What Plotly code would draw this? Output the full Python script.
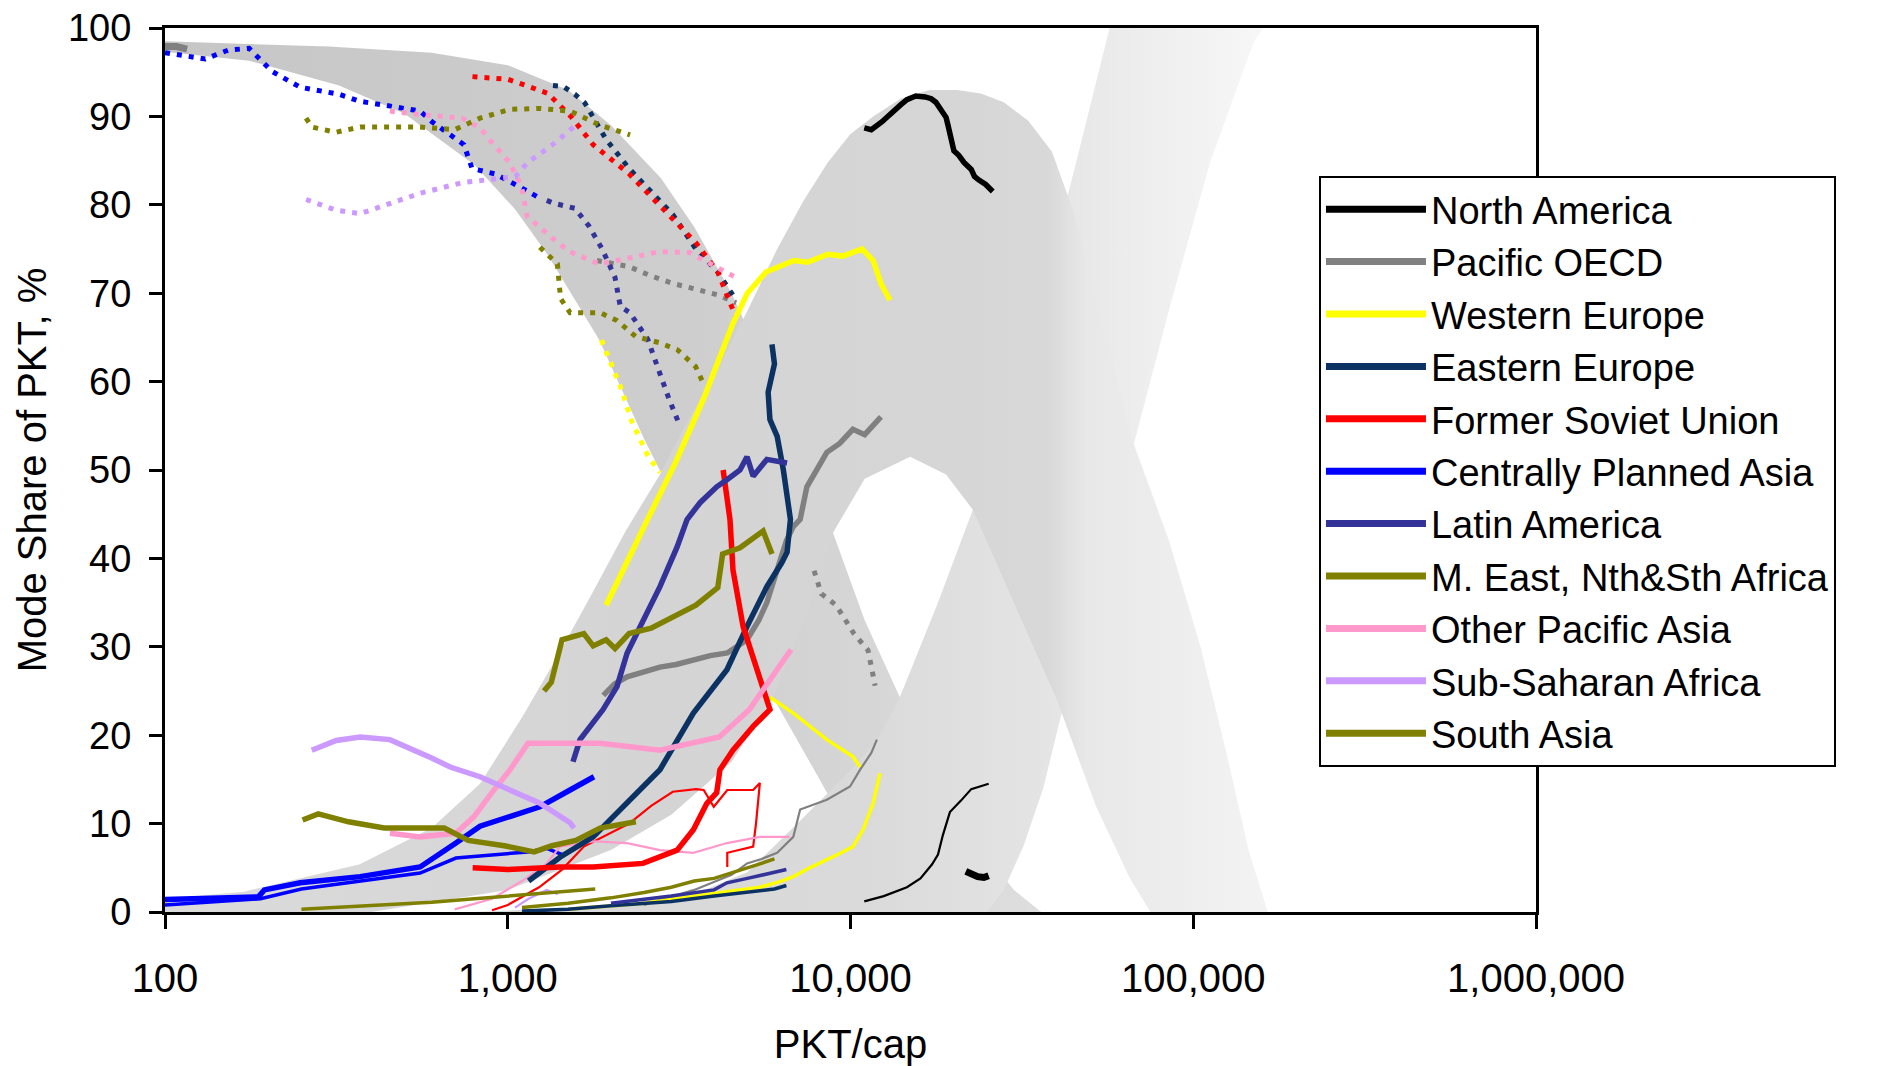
import plotly.graph_objects as go

# ---------------- axis ticks ----------------
X_TICKS = [100, 1000, 10000, 100000, 1000000]
X_TICK_TEXT = ["100", "1,000", "10,000", "100,000", "1,000,000"]
Y_TICKS = [0, 10, 20, 30, 40, 50, 60, 70, 80, 90, 100]

# ---------------- background bands (edge points: PKT/cap, %) ----------------
BAND_A_UPPER = [(100, 98.5), (300, 97.9), (600, 97.2), (1000, 95.8), (1500, 93.0), (2000, 89.0),
                (2800, 83.0), (3500, 77.5), (4500, 70.0), (5500, 62.5), (6500, 55.5), (7700, 48.5),
                (8890, 42.9), (11000, 33.0), (13930, 24.3), (18000, 15.0), (24000, 7.0),
                (30000, 2.5), (36000, 0.0)]
BAND_A_LOWER = [(100, 97.3), (176, 96.3), (322, 93.5), (500, 90.3), (800, 84.5), (1050, 79.5),
                (1300, 74.5), (1850, 64.7), (2500, 53.5), (3500, 42.2), (4700, 32.6), (5940, 24.3),
                (8150, 14.9), (10670, 6.7), (13300, 1.0), (15000, 0.0)]
CAR_OUTER = [(100, 0.0), (100, 1.5), (170, 2.3), (370, 5.4), (600, 9.5), (830, 14.5), (1100, 22.0),
             (1400, 29.0), (1760, 36.0), (2200, 43.0), (2780, 49.5), (3400, 56.0), (4170, 62.0),
             (5000, 68.0), (6110, 75.0), (7300, 80.5), (8590, 84.8), (10000, 88.0), (11640, 90.0),
             (14000, 92.0), (17000, 93.0), (20460, 93.0), (24000, 92.6), (28000, 91.6),
             (33000, 89.5), (38700, 86.0), (45000, 79.0), (55000, 66.0), (67100, 52.9),
             (85000, 42.0), (105000, 30.0), (125000, 18.0), (145000, 7.0), (165000, 0.0)]
CAR_INNER = [(400, 0.0), (1000, 2.5), (2000, 7.0), (3000, 11.0), (4500, 17.0), (5940, 24.3),
             (7500, 34.0), (8890, 42.9), (11000, 49.0), (14930, 51.5), (19000, 49.5),
             (22750, 45.5), (30000, 35.0), (40000, 24.0), (52000, 12.0), (65000, 4.0), (75000, 0.0)]
HST_LEFT = [(800, 0.0), (2000, 0.7), (3500, 2.0), (5000, 4.5), (7000, 10.0), (10000, 16.0),
            (12000, 19.5), (13930, 24.3), (18000, 35.0), (22750, 45.5), (30000, 60.0),
            (38000, 73.0), (45000, 84.0), (52000, 94.0), (57000, 100.0)]
HST_RIGHT = [(25000, 0.0), (28000, 2.5), (32000, 7.5), (36500, 14.0), (41000, 22.0), (50000, 33.0),
             (60000, 45.0), (67100, 52.9), (85500, 68.5), (112000, 84.8), (150000, 98.4),
             (160000, 100.0)]

# ---------------- regional series (PKT/cap, mode share %) ----------------
NA_CAR = [(10970, 88.7), (11500, 88.5), (12360, 89.4), (13300, 90.6), (14000, 91.3), (14610, 91.9),
          (15500, 92.3), (16500, 92.2), (17200, 92.0), (17740, 91.6), (18400, 90.8), (19000, 89.9),
          (19200, 89.2), (19500, 88.0), (19800, 87.2), (20030, 86.1), (20700, 85.6), (21430, 84.8),
          (22500, 84.0), (23000, 83.2), (23700, 82.8), (24800, 82.3), (26000, 81.5)]
NA_HST = [(10970, 1.2), (12500, 1.8), (14610, 2.8), (16000, 3.8), (17300, 5.4), (18000, 6.5),
          (18600, 8.7), (19500, 11.3), (21000, 12.6), (22500, 13.9), (25300, 14.5)]
NA_PT = [(21700, 4.6), (22500, 4.3), (23500, 4.0), (24500, 3.9), (25300, 4.1)]

PO_PT_A = [(1820, 73.7), (2000, 73.4), (2260, 73.0), (2600, 72.0), (3030, 71.1), (3500, 70.5),
           (4100, 69.8), (4640, 68.9)]
PO_PT_B = [(7830, 38.6), (8220, 36.0), (9080, 34.7), (10230, 31.5), (11250, 29.6), (11800, 25.6)]
PO_PT_C = [(100, 97.9), (108, 97.9), (116, 97.6)]
PO_CAR = [(1900, 24.5), (2050, 25.8), (2230, 26.6), (2500, 27.2), (2780, 27.7), (3100, 28.0),
          (3480, 28.5), (3900, 29.0), (4370, 29.3), (4990, 30.8), (5400, 33.0), (5700, 35.0),
          (6110, 38.7), (6500, 42.0), (6810, 43.6), (7130, 44.4), (7460, 48.1), (8000, 50.0),
          (8530, 52.0), (9300, 53.0), (10160, 54.6), (11000, 54.0), (11930, 55.4), (12270, 56.0)]
PO_HST = [(2500, 0.8), (3500, 2.5), (4500, 4.2), (4990, 5.5), (5500, 6.0), (6110, 6.7), (6810, 8.5),
          (7130, 11.6), (8530, 12.7), (9970, 14.2), (10670, 16.1), (11500, 18.0), (11940, 19.5)]

WE_CAR = [(1936, 34.7), (2200, 39.0), (2565, 44.5), (3100, 51.0), (3730, 58.1), (4540, 66.6),
          (5000, 70.0), (5670, 72.4), (6840, 73.7), (7500, 73.5), (8590, 74.4), (9500, 74.2),
          (10810, 75.0), (11640, 73.7), (12300, 71.0), (13040, 69.2)]
WE_PT = [(1876, 64.7), (2130, 59.5), (2300, 55.5), (2565, 51.6), (2780, 49.7)]
WE_MID = [(5820, 24.3), (6810, 22.5), (8530, 19.5), (10160, 17.6), (10670, 16.4)]
WE_HST = [(1500, 0.3), (2500, 1.0), (3500, 1.8), (4500, 2.4), (5440, 2.8), (6200, 3.4), (6810, 4.0),
          (7600, 5.0), (8530, 5.9), (9400, 6.7), (10160, 7.4), (10880, 9.3), (11640, 12.3),
          (12200, 15.7)]

EE_PT = [(1355, 93.5), (1450, 93.4), (1570, 92.5), (1680, 91.5), (1775, 89.9), (1936, 87.4),
         (2260, 84.1), (2620, 81.5), (3030, 78.9), (3540, 75.0), (4100, 72.4), (4640, 69.2)]
EE_CAR = [(1150, 3.5), (1420, 6.2), (1775, 8.5), (2230, 12.3), (2780, 16.1), (3480, 22.5),
          (4360, 27.4), (4990, 32.3), (5700, 36.8), (6300, 39.5), (6530, 40.7), (6680, 44.4),
          (6500, 48.0), (6370, 50.0), (6110, 53.8), (5820, 55.7), (5750, 58.8), (6000, 62.0),
          (5900, 64.2)]
EE_HST = [(1100, 0.1), (1500, 0.3), (2000, 0.7), (3000, 1.2), (4000, 1.8), (5000, 2.2),
          (6000, 2.6), (6500, 3.0)]

FSU_PT = [(789, 94.5), (900, 94.4), (1000, 94.2), (1130, 93.5), (1310, 92.6), (1528, 90.0),
          (1775, 86.8), (2260, 83.5), (2620, 80.9), (3030, 78.3), (3540, 75.7), (4100, 72.4),
          (4480, 68.5), (4640, 67.2)]
FSU_CAR = [(790, 5.0), (1000, 4.8), (1420, 5.1), (1775, 5.1), (2480, 5.5), (3120, 7.0), (3480, 9.3),
           (3810, 12.3), (4070, 13.5), (4160, 16.1), (4540, 18.3), (5200, 21.0), (5820, 22.9),
           (5330, 27.4), (4860, 32.3), (4540, 38.7), (4450, 44.4), (4250, 50.0)]
FSU_HST = [(900, 0.2), (1000, 0.8), (1234, 2.8), (1440, 4.8), (1667, 7.4), (1936, 8.7), (2260, 10.0),
           (2620, 12.0), (3030, 13.6), (3540, 13.9), (3730, 13.8), (3990, 11.9), (4370, 13.8),
           (5200, 13.8), (5440, 14.6), (5300, 10.0), (5200, 7.4), (4370, 6.7), (4370, 5.1)]

CPA_PT = [(100, 97.2), (131, 96.5), (153, 97.5), (176, 97.7), (205, 95.1), (248, 93.3), (322, 92.5),
          (371, 91.7), (433, 91.3), (555, 90.6), (601, 89.4), (679, 88.0), (745, 86.8), (787, 84.1),
          (918, 83.5), (1064, 82.2), (1234, 80.8)]
CPA_CAR = [(100, 1.4), (187, 1.7), (195, 2.5), (248, 3.3), (371, 4.0), (555, 5.1), (706, 7.8),
           (830, 9.7), (1014, 10.8), (1241, 11.9), (1520, 13.8), (1785, 15.3)]
CPA_MID = [(100, 0.8), (190, 1.5), (250, 2.6), (372, 3.5), (555, 4.4), (706, 6.1), (900, 6.5),
           (1145, 6.8), (1300, 7.2), (1460, 6.4)]

LA_PT = [(1300, 80.5), (1355, 80.2), (1570, 79.6), (1725, 77.6), (1885, 75.0), (2055, 71.8),
         (2130, 68.5), (2270, 67.8), (2560, 64.8), (2780, 60.7), (2950, 58.1), (3140, 55.5)]
LA_CAR = [(1550, 17.0), (1625, 19.5), (1897, 22.9), (2083, 25.5), (2230, 29.3), (2485, 33.1),
          (2780, 36.8), (3120, 41.3), (3335, 44.4), (3640, 46.3), (4070, 48.1), (4360, 48.9),
          (4760, 50.0), (4990, 51.5), (5200, 49.3), (5700, 51.2), (6530, 50.8)]
LA_HST = [(2000, 1.0), (3000, 1.8), (4000, 2.5), (4360, 3.3), (5000, 3.8), (6000, 4.5), (6500, 4.8)]

ME_PT = [(1241, 75.2), (1396, 73.3), (1426, 69.4), (1520, 67.8), (1858, 67.8), (2084, 66.9),
         (2360, 65.1), (2770, 64.4), (3126, 63.6), (3532, 61.7), (3700, 60.0)]
ME_CAR = [(1276, 25.0), (1340, 26.0), (1440, 30.8), (1667, 31.5), (1775, 30.1), (1936, 30.8),
          (2056, 29.8), (2260, 31.5), (2620, 32.1), (3030, 33.4), (3540, 34.7), (4100, 36.7),
          (4235, 40.5), (4760, 41.2), (5560, 43.1), (5900, 40.5)]
ME_HST = [(1100, 0.5), (1500, 1.0), (2000, 1.6), (2500, 2.2), (3000, 2.8), (3500, 3.5), (4000, 3.8),
          (4500, 4.4), (5000, 5.0), (5500, 5.5), (6000, 6.0)]

OPA_PT = [(453, 90.6), (555, 90.2), (735, 89.8), (830, 88.7), (897, 87.1), (1012, 84.8), (1096, 82.1),
          (1141, 78.6), (1239, 77.5), (1342, 76.3), (1514, 74.7), (1853, 73.3), (2267, 74.0),
          (2773, 74.7), (3390, 74.6), (4140, 72.8), (4670, 71.7)]
OPA_CAR = [(453, 8.9), (555, 8.5), (706, 8.9), (797, 10.8), (899, 13.5), (1016, 16.1), (1146, 19.1),
           (1520, 19.1), (1860, 19.1), (2780, 18.3), (3390, 19.1), (4140, 19.8), (5070, 22.9),
           (6200, 27.7), (6710, 29.7)]
OPA_HST = [(700, 0.3), (900, 1.5), (1100, 3.5), (1300, 5.5), (1420, 7.4), (1800, 8.0), (2230, 7.8),
           (2780, 7.0), (3480, 6.7), (4360, 7.8), (5440, 8.5), (6650, 8.5)]

SSA_PT = [(258, 80.6), (315, 79.4), (371, 79.0), (453, 80.2), (555, 81.3), (735, 82.5), (897, 82.9),
          (1054, 83.2), (1143, 84.8), (1342, 86.7), (1578, 89.0)]
SSA_CAR = [(268, 18.3), (316, 19.4), (371, 19.8), (453, 19.5), (602, 17.4), (679, 16.4), (830, 15.3),
           (1016, 13.8), (1241, 12.3), (1520, 10.1), (1560, 9.5)]
SSA_HST = [(1050, 0.5), (1150, 1.5), (1300, 2.5), (1400, 2.0)]

SA_PT = [(258, 89.8), (268, 88.8), (315, 88.2), (371, 88.8), (555, 88.8), (700, 88.5), (830, 89.8),
         (1015, 90.8), (1241, 90.9), (1520, 90.6), (1860, 89.0), (2275, 87.9)]
SA_CAR = [(252, 10.4), (280, 11.1), (343, 10.2), (436, 9.5), (653, 9.5), (767, 8.1), (977, 7.5),
          (1194, 6.8), (1346, 7.5), (1580, 8.1), (1860, 9.5), (2365, 10.2)]
SA_HST = [(250, 0.3), (400, 0.7), (600, 1.1), (800, 1.5), (1000, 1.8), (1200, 2.0), (1500, 2.3),
          (1800, 2.6)]

REGION_NAMES = ["North America", "Pacific OECD", "Western Europe", "Eastern Europe",
                "Former Soviet Union", "Centrally Planned Asia", "Latin America",
                "M. East, Nth&Sth Africa", "Other Pacific Asia", "Sub-Saharan Africa", "South Asia"]

# ---------------- styling ----------------
COLORS = {
    "North America": "#000000", "Pacific OECD": "#808080", "Western Europe": "#ffff00",
    "Eastern Europe": "#0b3263", "Former Soviet Union": "#ff0000",
    "Centrally Planned Asia": "#0000ff", "Latin America": "#333399",
    "M. East, Nth&Sth Africa": "#808000", "Other Pacific Asia": "#ff99cc",
    "Sub-Saharan Africa": "#cc99ff", "South Asia": "#808000",
}
SERIES = [
    ("North America", "car", NA_CAR), ("North America", "hst", NA_HST), ("North America", "blob", NA_PT),
    ("Pacific OECD", "pt", PO_PT_A), ("Pacific OECD", "pt", PO_PT_B), ("Pacific OECD", "blob", PO_PT_C),
    ("Pacific OECD", "car", PO_CAR), ("Pacific OECD", "hst", PO_HST),
    ("Western Europe", "car", WE_CAR), ("Western Europe", "pt", WE_PT), ("Western Europe", "mid", WE_MID),
    ("Western Europe", "mid", WE_HST),
    ("Eastern Europe", "pt", EE_PT), ("Eastern Europe", "car", EE_CAR), ("Eastern Europe", "mid", EE_HST),
    ("Former Soviet Union", "pt", FSU_PT), ("Former Soviet Union", "car", FSU_CAR),
    ("Former Soviet Union", "hst", FSU_HST),
    ("Centrally Planned Asia", "pt", CPA_PT), ("Centrally Planned Asia", "car", CPA_CAR),
    ("Centrally Planned Asia", "mid", CPA_MID),
    ("Latin America", "pt", LA_PT), ("Latin America", "car", LA_CAR), ("Latin America", "mid", LA_HST),
    ("M. East, Nth&Sth Africa", "pt", ME_PT), ("M. East, Nth&Sth Africa", "car", ME_CAR),
    ("M. East, Nth&Sth Africa", "mid", ME_HST),
    ("Other Pacific Asia", "pt", OPA_PT), ("Other Pacific Asia", "car", OPA_CAR),
    ("Other Pacific Asia", "hst", OPA_HST),
    ("Sub-Saharan Africa", "pt", SSA_PT), ("Sub-Saharan Africa", "car", SSA_CAR),
    ("Sub-Saharan Africa", "hst", SSA_HST),
    ("South Asia", "pt", SA_PT), ("South Asia", "car", SA_CAR), ("South Asia", "mid", SA_HST),
]
KIND_STYLE = {
    "car": dict(width=5.5, dash="solid"),
    "pt": dict(width=5, dash="5px,7px"),
    "mid": dict(width=3.5, dash="solid"),
    "hst": dict(width=2.2, dash="solid"),
    "blob": dict(width=7, dash="solid"),
}
FONT = "Arial, 'Liberation Sans', Helvetica, sans-serif"


def xs(pts):
    return [p[0] for p in pts]


def ys(pts):
    return [p[1] for p in pts]


fig = go.Figure()


def add_band(edge1, edge2, scale, fallback):
    poly = list(edge1) + list(reversed(edge2))
    fig.add_trace(go.Scatter(
        x=xs(poly), y=ys(poly), mode="lines", fill="toself", line=dict(width=0, color=fallback),
        fillcolor=fallback, fillgradient=dict(type="horizontal", colorscale=scale),
        hoverinfo="skip", showlegend=False))


add_band(BAND_A_UPPER, BAND_A_LOWER,
         [[0, "#c6c6c6"], [0.6, "#cecece"], [1, "#dedede"]], "#cbcbcb")
add_band(HST_LEFT, HST_RIGHT,
         [[0, "#d8d8d8"], [0.5, "#dadada"], [0.72, "#e4e4e4"], [0.85, "#eeeeee"], [1, "#f7f7f7"]],
         "#e6e6e6")
add_band(CAR_OUTER, CAR_INNER,
         [[0, "#dbdbdb"], [0.45, "#d4d4d4"], [0.72, "#d6d6d6"], [0.8, "#d8d8d8"], [0.835, "#e8e8e8"],
          [1, "#f3f3f3"]],
         "#d6d6d6")

order = {"pt": 0, "hst": 1, "mid": 1, "blob": 1, "car": 2}
for region, kind, pts in sorted(SERIES, key=lambda s: order[s[1]]):
    st = KIND_STYLE[kind]
    fig.add_trace(go.Scatter(
        x=xs(pts), y=ys(pts), mode="lines",
        line=dict(color=COLORS[region], width=st["width"], dash=st["dash"]),
        name=region, legendgroup=region, showlegend=False, hoverinfo="skip"))

for region in REGION_NAMES:
    fig.add_trace(go.Scatter(
        x=[None], y=[None], mode="lines", name=region, legendgroup=region,
        line=dict(color=COLORS[region], width=7), showlegend=True))

axis_common = dict(
    showline=True, linecolor="black", linewidth=3, mirror=True, ticks="outside",
    tickcolor="black", tickwidth=3, showgrid=False, zeroline=False, ticklabeloverflow="allow",
)
fig.update_xaxes(type="log", range=[2, 6], tickvals=X_TICKS, ticktext=X_TICK_TEXT, ticklen=14,
                 ticklabelstandoff=15, tickfont=dict(family=FONT, size=40, color="black"),
                 title=dict(text="PKT/cap", font=dict(family=FONT, size=40, color="black"), standoff=46),
                 **axis_common)
fig.update_yaxes(range=[0, 100], tickvals=Y_TICKS, ticklen=13, ticklabelstandoff=10,
                 tickfont=dict(family=FONT, size=38, color="black"),
                 title=dict(text="Mode Share of PKT, %", font=dict(family=FONT, size=40, color="black"),
                            standoff=9),
                 **axis_common)

fig.update_layout(
    width=1864, height=1058,
    margin=dict(l=157, r=336, t=20, b=154, autoexpand=False),
    paper_bgcolor="white", plot_bgcolor="white",
    font=dict(family=FONT, color="black"),
    legend=dict(x=0.8417, y=0.8326, xanchor="left", yanchor="top", bgcolor="white",
                bordercolor="black", borderwidth=2, font=dict(family=FONT, size=38, color="black"),
                itemwidth=100, tracegroupgap=0),
)

fig.write_html("out.html")
